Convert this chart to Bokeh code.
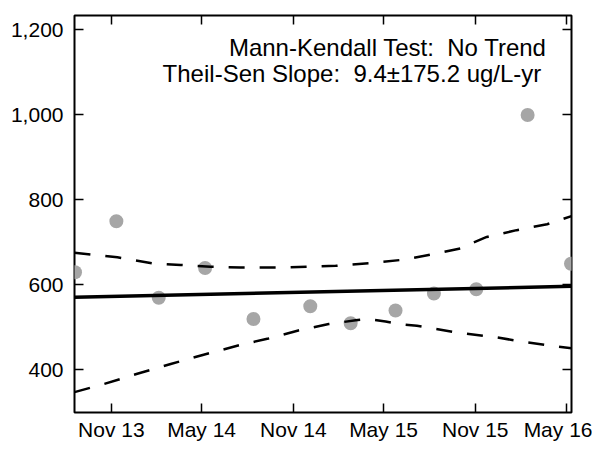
import pandas as pd
from bokeh.plotting import figure
from bokeh.models import (Range1d, FixedTicker, DatetimeTickFormatter, NumeralTickFormatter,
                          DatetimeAxis, LinearAxis, Label, ColumnDataSource)
from bokeh.embed import file_html
from bokeh.resources import INLINE

# ---------------- data ----------------
sample_dates = ["2013-08-20", "2013-11-11", "2014-02-04", "2014-05-08", "2014-08-13", "2014-12-05",
                "2015-02-24", "2015-05-25", "2015-08-10", "2015-11-03", "2016-02-14", "2016-05-11"]
concentration = [630, 750, 570, 640, 520, 550, 510, 540, 580, 590, 1000, 650]

trend_dates = ["2013-08-19", "2016-05-12"]
trend_values = [571, 597]

upper_dates = ["2013-08-19", "2013-11-13", "2014-01-22", "2014-03-20", "2014-05-19", "2014-07-18",
               "2014-10-10", "2015-01-25", "2015-04-01", "2015-06-14", "2015-08-23", "2015-10-02",
               "2015-10-22", "2015-11-24", "2016-01-23", "2016-03-24", "2016-05-12"]
upper_values = [676, 665, 651, 647, 643, 641, 641, 645, 651, 660, 676, 686, 697, 713, 729, 743, 762]

lower_dates = ["2013-08-19", "2013-10-17", "2013-12-23", "2014-02-28", "2014-05-05", "2014-07-18",
               "2014-09-12", "2014-11-11", "2015-01-11", "2015-03-06", "2015-04-01", "2015-05-05",
               "2015-05-31", "2015-07-07", "2015-10-02", "2015-12-07", "2016-02-12", "2016-04-13",
               "2016-05-12"]
lower_values = [348, 367, 391, 414, 436, 459, 474, 493, 508, 517, 520, 514, 508, 504, 487, 478,
                465, 455, 451]

x_tick_dates = ["2013-11-01", "2014-05-01", "2014-11-01", "2015-05-01", "2015-11-01", "2016-05-01"]
y_ticks = [400, 600, 800, 1000, 1200]
annotation_lines = ["Mann-Kendall Test:\u00a0 No Trend",
                    "Theil-Sen Slope:\u00a0 9.4\u00b1175.2 ug/L-yr"]


def ms(d):
    return pd.Timestamp(d).value / 1e6


FONT = "Liberation Sans"

p = figure(width=592, height=443, output_backend="svg", toolbar_location=None,
           x_axis_type="datetime",
           x_range=Range1d(pd.Timestamp("2013-08-19"), pd.Timestamp("2016-05-12")),
           y_range=Range1d(300, 1234),
           min_border_left=74, min_border_right=21, min_border_top=15, min_border_bottom=0)
p.xgrid.visible = False
p.ygrid.visible = False
p.outline_line_color = "black"
p.outline_line_width = 2
p.background_fill_color = "white"
p.border_fill_color = "white"

xt = FixedTicker(ticks=[ms(d) for d in x_tick_dates])
yt = FixedTicker(ticks=y_ticks)
fmt = DatetimeTickFormatter(days="%b %y", months="%b %y", years="%b %y")


def style(ax, labels=True):
    ax.axis_line_color = None
    ax.major_tick_in = 9
    ax.major_tick_out = 0
    ax.major_tick_line_width = 1.5
    ax.major_tick_line_color = "black"
    ax.minor_tick_line_color = None
    if labels:
        ax.major_label_text_font = FONT
        ax.major_label_text_font_size = "21px"
        ax.major_label_text_color = "black"
    else:
        ax.major_label_text_color = None
        ax.major_label_text_font_size = "1px"
        ax.major_label_standoff = 0


xa = p.xaxis[0]
xa.ticker = xt
xa.formatter = fmt
style(xa)
xa.major_label_standoff = 5

ya = p.yaxis[0]
ya.ticker = yt
ya.formatter = NumeralTickFormatter(format="0,0")
style(ya)
ya.major_label_standoff = 11

top = DatetimeAxis(ticker=xt, formatter=fmt)
style(top, labels=False)
p.add_layout(top, "above")

right = LinearAxis(ticker=yt)
style(right, labels=False)
p.add_layout(right, "right")

src = ColumnDataSource(dict(x=pd.to_datetime(sample_dates), y=concentration))
p.scatter("x", "y", source=src, size=14, fill_color="#a6a6a6", line_color=None)

p.line(pd.to_datetime(upper_dates), upper_values, line_color="black", line_width=2.5,
       line_dash="16 15")
p.line(pd.to_datetime(lower_dates), lower_values, line_color="black", line_width=2.5,
       line_dash="16 15")
p.line(pd.to_datetime(trend_dates), trend_values, line_color="black", line_width=3.5)

p.add_layout(Label(x=ms("2016-03-23 12:00"), y=1158, text=annotation_lines[0],
                   text_align="right", text_baseline="alphabetic", text_font=FONT,
                   text_font_size="24px", text_color="black"))
p.add_layout(Label(x=ms("2016-03-12 12:00"), y=1098, text=annotation_lines[1],
                   text_align="right", text_baseline="alphabetic", text_font=FONT,
                   text_font_size="24px", text_color="black"))

open("out.html", "w").write(file_html(p, INLINE))
